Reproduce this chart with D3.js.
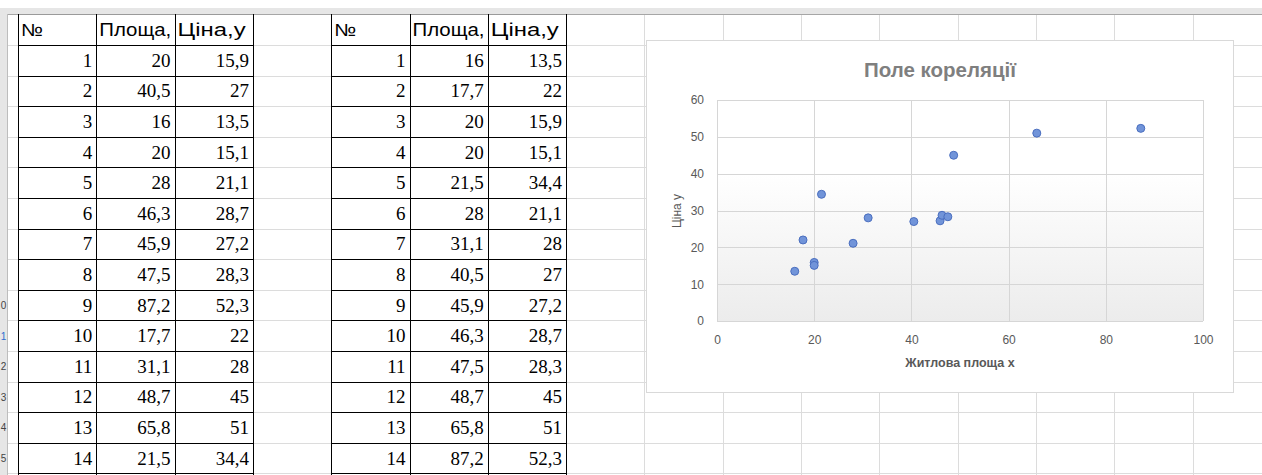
<!DOCTYPE html>
<html>
<head>
<meta charset="utf-8">
<script src="https://cdn.jsdelivr.net/npm/d3@7/dist/d3.min.js"></script>
<style>
  html, body { margin: 0; padding: 0; background: #fff; }
  svg { display: block; }
</style>
</head>
<body>
<svg id="sheet" width="1262" height="475"></svg>
<script>
// Table headers
const headers = ["№", "Площа,", "Ціна,у"];
// Left table: observations in original order
const rowNo = [1, 2, 3, 4, 5, 6, 7, 8, 9, 10, 11, 12, 13, 14];
const areaRaw  = ["20", "40,5", "16", "20", "28", "46,3", "45,9", "47,5", "87,2", "17,7", "31,1", "48,7", "65,8", "21,5"];
const priceRaw = ["15,9", "27", "13,5", "15,1", "21,1", "28,7", "27,2", "28,3", "52,3", "22", "28", "45", "51", "34,4"];
// Right table: observations sorted by living area
const areaSorted  = ["16", "17,7", "20", "20", "21,5", "28", "31,1", "40,5", "45,9", "46,3", "47,5", "48,7", "65,8", "87,2"];
const priceSorted = ["13,5", "22", "15,9", "15,1", "34,4", "21,1", "28", "27", "27,2", "28,7", "28,3", "45", "51", "52,3"];
// Row-header digits left visible in the narrow header strip (rows 10..15)
const rowHeadDigits = ["0", "1", "2", "3", "4", "5"];
// Chart texts and axis ticks
const chartTitle = "Поле кореляції";
const xTitle = "Житлова площа x";
const yTitle = "Ціна y";
const xTicks = [0, 20, 40, 60, 80, 100];
const yTicks = [0, 10, 20, 30, 40, 50, 60];

const num = s => +s.replace(",", ".");

const svg = d3.select("#sheet");
const defs = svg.append("defs");
const W = 1262, H = 475;

// ---- spreadsheet grid ----
const colX0 = 18, colW = 78.3;
const rowY0 = 14.3, rowH = 30.6;
const colEdges = d3.range(0, 17).map(k => colX0 + k * colW);
const rowEdges = d3.range(0, 16).map(r => rowY0 + r * rowH);

const grid = svg.append("g").attr("shape-rendering", "crispEdges");
grid.selectAll("line.v").data(colEdges).join("line")
  .attr("x1", d => Math.round(d) + 0.5).attr("x2", d => Math.round(d) + 0.5)
  .attr("y1", rowY0).attr("y2", H)
  .attr("stroke", "#dcdcdc");
grid.selectAll("line.h").data(rowEdges).join("line")
  .attr("x1", 0).attr("x2", W)
  .attr("y1", d => Math.round(d) + 0.5).attr("y2", d => Math.round(d) + 0.5)
  .attr("stroke", "#dcdcdc");

// column header strip
svg.append("rect").attr("x", 0).attr("y", 8).attr("width", W).attr("height", 6).attr("fill", "#e6e6e6");
grid.append("line").attr("x1", 0).attr("x2", W).attr("y1", 14.5).attr("y2", 14.5).attr("stroke", "#a6a6a6").attr("stroke-width", 1.5);
grid.selectAll("line.ch").data(colEdges).join("line")
  .attr("x1", d => Math.round(d) + 0.5).attr("x2", d => Math.round(d) + 0.5)
  .attr("y1", 8).attr("y2", 14).attr("stroke", "#c4c4c4");

// row header strip (mostly scrolled out of view)
svg.append("rect").attr("x", 0).attr("y", 14).attr("width", 7).attr("height", H - 14).attr("fill", "#e6e6e6");
grid.append("line").attr("x1", 7.5).attr("x2", 7.5).attr("y1", 8).attr("y2", H).attr("stroke", "#bdbdbd");
svg.append("g").selectAll("text").data(rowHeadDigits).join("text")
  .attr("x", 3.5).attr("y", (d, i) => rowEdges[9 + i] + rowH / 2 + 4)
  .attr("text-anchor", "middle")
  .attr("font-family", "Liberation Sans, Arial, sans-serif").attr("font-size", 10)
  .attr("fill", d => d === "1" ? "#2f6fd0" : "#444")
  .text(d => d);

// ---- the two tables ----
function drawTable(firstCol, areas, prices) {
  const g = svg.append("g");
  const x0 = colEdges[firstCol];
  const xs = [0, 1, 2].map(k => colEdges[firstCol + k]);
  const xe = colEdges[firstCol + 3];
  // headers
  g.selectAll("text.hd").data(headers).join("text")
    .attr("x", (d, k) => xs[k] + 3)
    .attr("y", rowEdges[0] + rowH / 2 + 6)
    .attr("font-family", "Liberation Sans, Arial, sans-serif")
    .attr("font-size", 17.5)
    .attr("fill", "#000")
    .attr("textLength", (d, k) => k === 0 ? 22 : (k === 1 ? 72 : 68))
    .attr("lengthAdjust", "spacingAndGlyphs")
    .text(d => d);
  // cells
  const rows = rowNo.map((n, i) => [String(n), areas[i], prices[i]]);
  rows.forEach((cells, i) => {
    g.selectAll(null).data(cells).join("text")
      .attr("x", (d, k) => colEdges[firstCol + k + 1] - 4)
      .attr("y", rowEdges[i + 1] + rowH / 2 + 6.5)
      .attr("text-anchor", "end")
      .attr("font-family", "Liberation Serif, Times New Roman, serif")
      .attr("font-size", 19)
      .attr("fill", "#000")
      .text(d => d);
  });
  // borders
  const b = g.append("g").attr("shape-rendering", "crispEdges").attr("stroke", "#000").attr("stroke-width", 1.3);
  rowEdges.forEach(y => {
    b.append("line").attr("x1", x0).attr("x2", xe).attr("y1", Math.round(y) + 0.5).attr("y2", Math.round(y) + 0.5)
      .attr("stroke", y === rowEdges[0] ? "#9a9a9a" : "#000");
  });
  [...xs, xe].forEach(x => {
    b.append("line").attr("x1", Math.round(x) + 0.5).attr("x2", Math.round(x) + 0.5).attr("y1", rowEdges[0]).attr("y2", H);
  });
}
drawTable(0, areaRaw, priceRaw);
drawTable(4, areaSorted, priceSorted);

// ---- scatter chart ----
const box = { x: 646, y: 40, w: 587, h: 352 };
svg.append("rect").attr("x", box.x + 0.5).attr("y", box.y + 0.5).attr("width", box.w).attr("height", box.h)
  .attr("fill", "#fff").attr("stroke", "#d9d9d9");

const plot = { l: 717, r: 1203, t: 100, b: 321 };
const x = d3.scaleLinear().domain([0, 100]).range([plot.l, plot.r]);
const y = d3.scaleLinear().domain([0, 60]).range([plot.b, plot.t]);

const grad = defs.append("linearGradient").attr("id", "pa")
  .attr("x1", 0).attr("y1", 0).attr("x2", 0).attr("y2", 1);
grad.append("stop").attr("offset", "0").attr("stop-color", "#ffffff");
grad.append("stop").attr("offset", "0.33").attr("stop-color", "#ffffff");
grad.append("stop").attr("offset", "1").attr("stop-color", "#ececec");
svg.append("rect").attr("x", plot.l).attr("y", plot.t).attr("width", plot.r - plot.l).attr("height", plot.b - plot.t)
  .attr("fill", "url(#pa)");

const cg = svg.append("g").attr("shape-rendering", "crispEdges");
cg.selectAll("line.gx").data(xTicks).join("line")
  .attr("x1", d => Math.round(x(d)) + 0.5).attr("x2", d => Math.round(x(d)) + 0.5)
  .attr("y1", plot.t).attr("y2", plot.b).attr("stroke", "#d6d6d6");
cg.selectAll("line.gy").data(yTicks).join("line")
  .attr("x1", plot.l).attr("x2", plot.r)
  .attr("y1", d => Math.round(y(d)) + 0.5).attr("y2", d => Math.round(y(d)) + 0.5).attr("stroke", "#d6d6d6");

// axes: tick labels only
const xAxis = svg.append("g").attr("transform", `translate(0,${plot.b})`)
  .call(d3.axisBottom(x).tickValues(xTicks).tickSize(0).tickPadding(14).tickFormat(d3.format("d")));
const yAxis = svg.append("g").attr("transform", `translate(${plot.l},0)`)
  .call(d3.axisLeft(y).tickValues(yTicks).tickSize(0).tickPadding(13).tickFormat(d3.format("d")));
[xAxis, yAxis].forEach(a => {
  a.select(".domain").remove();
  a.selectAll("text").attr("font-family", "Liberation Sans, Arial, sans-serif").attr("font-size", 12).attr("fill", "#595959");
});

// points
svg.append("g").selectAll("circle").data(areaSorted.map((a, i) => [num(a), num(priceSorted[i])])).join("circle")
  .attr("cx", d => x(d[0])).attr("cy", d => y(d[1])).attr("r", 4)
  .attr("fill", "#7194d9").attr("stroke", "#4a6ebf").attr("stroke-width", 1);

// titles
svg.append("text").attr("x", 940).attr("y", 77).attr("text-anchor", "middle")
  .attr("font-family", "Liberation Sans, Arial, sans-serif").attr("font-weight", "bold").attr("font-size", 20.5)
  .attr("fill", "#7f7f7f").text(chartTitle);
svg.append("text").attr("x", 960).attr("y", 367).attr("text-anchor", "middle")
  .attr("font-family", "Liberation Sans, Arial, sans-serif").attr("font-weight", "bold").attr("font-size", 12.5)
  .attr("fill", "#595959").text(xTitle);
svg.append("text").attr("transform", "translate(681,211) rotate(-90)").attr("text-anchor", "middle")
  .attr("font-family", "Liberation Sans, Arial, sans-serif").attr("font-size", 12)
  .attr("fill", "#595959").text(yTitle);
</script>
</body>
</html>
